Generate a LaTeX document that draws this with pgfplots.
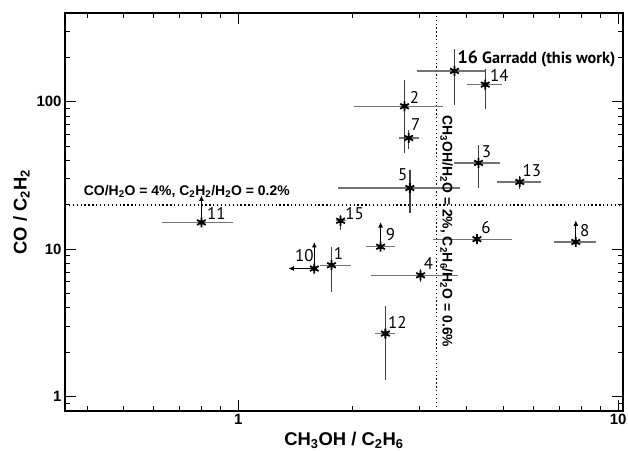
\documentclass[border=0pt]{standalone}
\usepackage{pgfplots}
\pgfplotsset{compat=1.18}
\usepackage{pgfplotstable}
\usepackage{fontspec}
\setmainfont{Liberation Sans}
\newfontfamily\labfont{PT Sans}
\usetikzlibrary{arrows.meta}

% comet ratios: x = CH3OH/C2H6, y = CO/C2H2, asymmetric errors
\pgfplotstableread{
id x     y     xm    xp    ym    yp
1  1.76  7.79  0.12  0.22  2.70  2.61
2  2.74  93.2  0.72  0.71  48.6  46.8
3  4.29  38.5  0.60  0.61  12.5  12.2
4  3.02  6.66  0.78  0.78  0.66  0.74
5  2.83  26.0  1.00  1.00  8.4   8.3
6  4.25  11.7  0.99  1.00  0     0
7  2.81  56.8  0.16  0.18  8.6   7.3
8  7.74  11.2  0.97  1.00  0     0
9  2.37  10.4  0.20  0.22  0     0
10 1.586 7.40  0     0     0     0
11 0.80  15.2  0.17  0.168 0     0
12 2.44  2.68  0.15  0.15  1.39  1.43
13 5.51  28.6  0.71  0.76  2.8   2.6
14 4.47  130.8 0.46  0.48  41.8  37.2
15 1.86  15.6  0.05  0.06  2.2   1.4
16 3.71  161.8 0.75  0.78  67.1  65.2
}\pts

\tikzset{
  plab/.style={font=\labfont\fontsize{17}{17}\selectfont, inner sep=0pt},
  lim/.style={black, line width=1.2bp, -{Latex[length=5.5bp,width=5bp]}},
}

\begin{document}
\begin{tikzpicture}
\begin{axis}[
    name=ax,
    xmode=log, ymode=log,
    scale only axis, width=558bp, height=398bp,
    xmin=0.35, xmax=10.3, ymin=0.8, ymax=400,
    xtick={1,10}, xticklabels={1,10},
    ytick={1,10,100}, yticklabels={1,10,100},
    minor xtick={0.4,0.5,0.6,0.7,0.8,0.9,2,3,4,5,6,7,8,9},
    minor ytick={0.9,2,3,4,5,6,7,8,9,20,30,40,50,60,70,80,90,200,300},
    tick align=inside,
    major tick length=11bp, minor tick length=5bp,
    tick style={black, line width=1bp},
    axis line style={line width=1.3bp},
    ticklabel style={font=\fontsize{15}{15}\selectfont\bfseries},
    xlabel={CH\textsubscript{3}OH / C\textsubscript{2}H\textsubscript{6}},
    ylabel={CO / C\textsubscript{2}H\textsubscript{2}},
    label style={font=\fontsize{18.5}{18.5}\selectfont\bfseries},
]
% reference ratios
\addplot[black, line width=1.3bp, dash pattern=on 1.3bp off 2.6bp] coordinates {(3.333,0.8) (3.333,400)};
\addplot[black, line width=1.3bp, dash pattern=on 1.3bp off 2.6bp] coordinates {(0.35,20) (10.3,20)};

% error bars
\addplot[only marks, mark=none, error bars/.cd, x dir=both, x explicit,
    error mark=none, error bar style={draw=black!55, line width=1.3bp}]
    table[x=x, y=y, x error plus=xp, x error minus=xm]{\pts};
\addplot[only marks, mark=none, error bars/.cd, y dir=both, y explicit,
    error mark=none, error bar style={draw=black!75, line width=1.3bp}]
    table[x=x, y=y, y error plus=yp, y error minus=ym]{\pts};

% limits
\addplot[lim] coordinates {(7.74,11.2) (7.74,15.7)};
\addplot[lim] coordinates {(2.37,10.4) (2.37,15.3)};
\addplot[lim] coordinates {(1.586,7.40) (1.586,11.2)};
\addplot[lim] coordinates {(1.586,7.40) (1.355,7.40)};
\addplot[lim] coordinates {(0.80,15.2) (0.80,23.2)};

\addplot[only marks, mark=asterisk, mark size=5bp, black, line width=1.8bp]
    table[x=x, y=y]{\pts};

\node[plab, xshift=7bp, yshift=12bp] at (axis cs:1.76,7.79) {1};
\node[plab, xshift=10bp, yshift=9bp] at (axis cs:2.74,93.2) {2};
\node[plab, xshift=8bp, yshift=11bp] at (axis cs:4.29,38.5) {3};
\node[plab, xshift=8bp, yshift=12bp] at (axis cs:3.02,6.66) {4};
\node[plab, xshift=-7bp, yshift=13bp] at (axis cs:2.83,26.0) {5};
\node[plab, xshift=9bp, yshift=12bp] at (axis cs:4.25,11.7) {6};
\node[plab, xshift=7bp, yshift=13bp] at (axis cs:2.81,56.8) {7};
\node[plab, xshift=9bp, yshift=11bp] at (axis cs:7.74,11.2) {8};
\node[plab, xshift=10bp, yshift=12bp] at (axis cs:2.37,10.4) {9};
\node[plab, xshift=-10bp, yshift=13bp] at (axis cs:1.586,7.40) {10};
\node[plab, xshift=15bp, yshift=9bp] at (axis cs:0.80,15.2) {11};
\node[plab, xshift=12bp, yshift=11bp] at (axis cs:2.44,2.68) {12};
\node[plab, xshift=12bp, yshift=11bp] at (axis cs:5.51,28.6) {13};
\node[plab, xshift=14bp, yshift=9bp] at (axis cs:4.47,130.8) {14};
\node[plab, xshift=14bp, yshift=7bp] at (axis cs:1.86,15.6) {15};
\node[plab, anchor=west, xshift=3bp, yshift=12bp, font=\labfont\bfseries\fontsize{16.3}{16.3}\selectfont]
    at (axis cs:3.71,161.8) {{\fontsize{18}{18}\selectfont 16} Garradd (this work)};

\node[anchor=base west, inner sep=0pt, font=\bfseries\fontsize{14}{14}\selectfont]
    at (axis cs:0.392,23.2) {CO/H\textsubscript{2}O = 4\%, C\textsubscript{2}H\textsubscript{2}/H\textsubscript{2}O = 0.2\%};
\node[rotate=-90, anchor=base west, inner sep=0pt, font=\bfseries\fontsize{14}{14}\selectfont]
    at (axis cs:3.45,81) {CH\textsubscript{3}OH/H\textsubscript{2}O = 2\%, C\textsubscript{2}H\textsubscript{6}/H\textsubscript{2}O = 0.6\%};
\end{axis}
\pgfresetboundingbox
\path[use as bounding box] ([shift={(-65bp,-40bp)}]ax.south west) rectangle ([shift={(5bp,13bp)}]ax.north east);
\end{tikzpicture}
\end{document}
